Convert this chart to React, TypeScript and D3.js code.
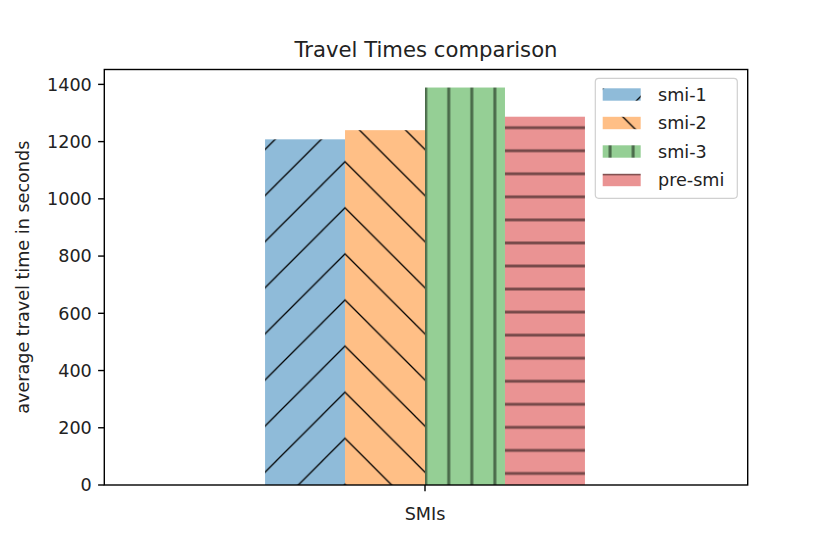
import React from 'react'
import { scaleLinear } from 'd3'

// data
const series = ['smi-1', 'smi-2', 'smi-3', 'pre-smi']
const values = [1208, 1240, 1389, 1287]
const category = 'SMIs'
const yTicks = [0, 200, 400, 600, 800, 1000, 1200, 1400]

const faceColors = ['#8fbbd9', '#ffbf86', '#95cf95', '#ea9393']
const hatchKinds = ['slash', 'backslash', 'vline', 'hline']

const W = 830
const H = 554
const left = 104.3
const right = 747.7
const top = 69.5
const bottom = 485
const barWidth = 0.2
const font = '"DejaVu Sans", sans-serif'

// hatch spacing, anchored to the page like matplotlib does
const S = 23.05
const P = S * 2

const Hatches = () => (
    <defs>
        <pattern id='slash' patternUnits='userSpaceOnUse' width={P} height={P}
            patternTransform={`translate(${506.7 % P},0)`}>
            <rect width={P} height={P} fill={faceColors[0]} />
            <path d={`M0,${P}L${P},0M-4,4L4,-4M${P - 4},${P + 4}L${P + 4},${P - 4}`}
                stroke='#000' strokeWidth={1.3} />
        </pattern>
        <pattern id='backslash' patternUnits='userSpaceOnUse' width={P} height={P}
            patternTransform={`translate(0,${((-183.3 % P) + P) % P})`}>
            <rect width={P} height={P} fill={faceColors[1]} />
            <path d={`M0,0L${P},${P}M${P - 4},-4L${P + 4},4M-4,${P - 4}L4,${P + 4}`}
                stroke='#000' strokeWidth={1.3} />
        </pattern>
        <pattern id='vline' patternUnits='userSpaceOnUse' width={S} height={10}
            patternTransform={`translate(${425.7 % S},0)`}>
            <rect width={S} height={10} fill={faceColors[2]} />
            <path d={`M0,0V10M${S},0V10`} stroke='#4a6a4a' strokeWidth={3} />
        </pattern>
        <pattern id='hline' patternUnits='userSpaceOnUse' width={10} height={S}
            patternTransform={`translate(0,${127.7 % S})`}>
            <rect width={10} height={S} fill={faceColors[3]} />
            <path d={`M0,0H10M0,${S}H10`} stroke='#764949' strokeWidth={3} />
        </pattern>
    </defs>
)

const App = () => {
    const x = scaleLinear().domain([-0.802, 0.807]).range([left, right])
    const y = scaleLinear().domain([0, 1452]).range([bottom, top])

    const x0 = -barWidth * series.length / 2

    return (
        <svg width={W} height={H} style={{ position: 'absolute', left: 0, top: 0, background: '#fff' }}
            fontFamily={font}>
            <Hatches />

            {values.map((v, i) => {
                const bx = x(x0 + i * barWidth)
                const bw = x(x0 + (i + 1) * barWidth) - bx
                return <rect key={series[i]} x={bx} y={y(v)} width={bw} height={y(0) - y(v)}
                    fill={`url(#${hatchKinds[i]})`} />
            })}

            {/* axes box */}
            <rect x={left} y={top} width={right - left} height={bottom - top}
                fill='none' stroke='#000' strokeWidth={1.4} />

            {/* y axis */}
            {yTicks.map(t => (
                <g key={t}>
                    <line x1={left - 6.2} x2={left} y1={y(t)} y2={y(t)} stroke='#000' strokeWidth={1.4} />
                    <text x={left - 12.5} y={y(t)} dy='0.36em' textAnchor='end' fontSize={17.6} fill='#222'>{t}</text>
                </g>
            ))}
            <text transform={`translate(29,${(top + bottom) / 2}) rotate(-90)`} textAnchor='middle'
                fontSize={17.6} fill='#222'>average travel time in seconds</text>

            {/* x axis */}
            <line x1={x(0)} x2={x(0)} y1={bottom} y2={bottom + 6.2} stroke='#000' strokeWidth={1.4} />
            <text x={x(0)} y={520} textAnchor='middle' fontSize={17.6} fill='#222'>{category}</text>

            {/* title */}
            <text x={(left + right) / 2} y={56.5} textAnchor='middle' fontSize={21.2} fill='#222'>Travel Times comparison</text>

            {/* legend */}
            <rect x={595.3} y={78.3} width={142} height={120} rx={3.5} fill='#fff' fillOpacity={0.8}
                stroke='#d0d0d0' strokeWidth={1.2} />
            {series.map((s, i) => {
                const cy = 94.5 + i * 28.5
                return (
                    <g key={s}>
                        <rect x={602.7} y={cy - 6.2} width={38} height={12.4} fill={`url(#${hatchKinds[i]})`} />
                        <text x={658} y={cy} dy='0.36em' fontSize={17.6} fill='#222'>{s}</text>
                    </g>
                )
            })}
        </svg>
    )
}

export default App
